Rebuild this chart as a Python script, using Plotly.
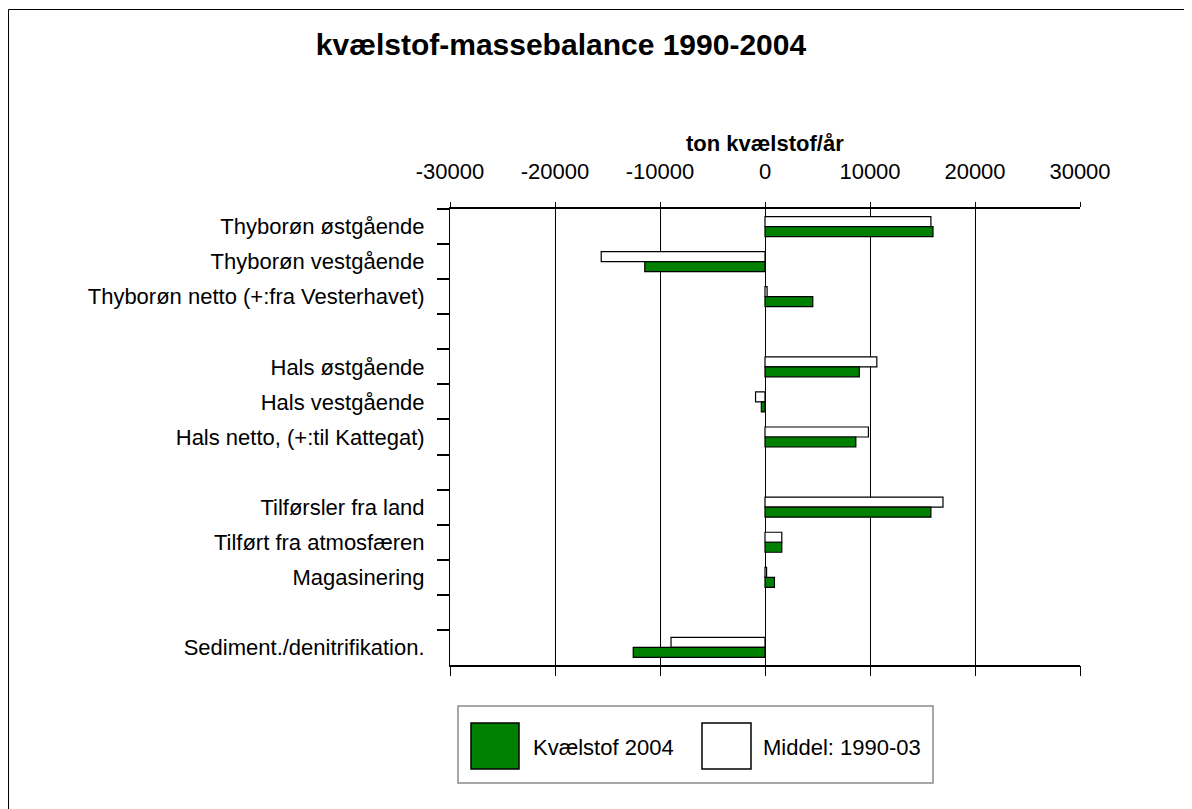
import plotly.graph_objects as go

# ---- data ----
categories = [
    "Thyborøn østgående",
    "Thyborøn vestgående",
    "Thyborøn netto (+:fra Vesterhavet)",
    " ",
    "Hals østgående",
    "Hals vestgående",
    "Hals netto, (+:til Kattegat)",
    "  ",
    "Tilførsler fra land",
    "Tilført fra atmosfæren",
    "Magasinering",
    "   ",
    "Sediment./denitrifikation.",
]
kvaelstof_2004 = [16000, -11450, 4550, None, 8980, -350, 8650, None, 15800, 1600, 900, None, -12550]
middel_1990_03 = [15800, -15600, 200, None, 10650, -900, 9850, None, 16950, 1600, 150, None, -8950]
x_tickvals = [-30000, -20000, -10000, 0, 10000, 20000, 30000]
x_ticktext = ["-30000", "-20000", "-10000", "0", "10000", "20000", "30000"]

title_text = "kvælstof-massebalance 1990-2004"
axis_title = "ton kvælstof/år"
series_names = ["Kvælstof 2004", "Middel: 1990-03"]

# ---- layout geometry (screen pixels) ----
W, H = 1192, 809
OX, OY = 8, 8          # page body margin offset
FW, FH = W - OX, H - OY
L, R, T, B = 450, 1080, 209, 665
FONT = "Liberation Sans, Arial, sans-serif"
GREEN = "#008000"


def px_x(x):
    return (x - L) / (R - L)


def px_y(y):
    return (B - y) / (B - T)


fig = go.Figure()
# Middel first -> drawn on top within each group (reversed category axis)
fig.add_trace(go.Bar(
    y=categories, x=middel_1990_03, orientation="h", name=series_names[1],
    marker=dict(color="white", line=dict(color="black", width=1.2)),
    showlegend=False,
))
fig.add_trace(go.Bar(
    y=categories, x=kvaelstof_2004, orientation="h", name=series_names[0],
    marker=dict(color=GREEN, line=dict(color="black", width=1.2)),
    showlegend=False,
))
# empty helper trace so the bottom tick axis is drawn
fig.add_trace(go.Scatter(x=[], y=[], xaxis="x2", yaxis="y", showlegend=False,
                         hoverinfo="skip"))

shapes = []
# outer frame (left and top edges visible)
shapes.append(dict(type="line", xref="paper", yref="paper",
                   x0=px_x(8.5), x1=px_x(8.5), y0=px_y(9.5), y1=px_y(H + 5),
                   line=dict(color="black", width=1)))
shapes.append(dict(type="line", xref="paper", yref="paper",
                   x0=px_x(8.5), x1=px_x(W + 5), y0=px_y(9.5), y1=px_y(9.5),
                   line=dict(color="black", width=1)))
# legend box
shapes.append(dict(type="rect", xref="paper", yref="paper",
                   x0=px_x(458), x1=px_x(933), y0=px_y(783), y1=px_y(706),
                   line=dict(color="#8a8a8a", width=1.5), fillcolor="white"))
shapes.append(dict(type="rect", xref="paper", yref="paper",
                   x0=px_x(471), x1=px_x(519), y0=px_y(769), y1=px_y(723),
                   line=dict(color="black", width=1.5), fillcolor=GREEN))
shapes.append(dict(type="rect", xref="paper", yref="paper",
                   x0=px_x(702), x1=px_x(751), y0=px_y(769), y1=px_y(723),
                   line=dict(color="black", width=1.5), fillcolor="white"))

annotations = [
    dict(text=axis_title, xref="paper", yref="paper", x=0.5, y=px_y(143),
         xanchor="center", yanchor="middle", showarrow=False,
         font=dict(family=FONT, size=22, color="black", weight="bold")),
    dict(text=series_names[0], xref="paper", yref="paper", x=px_x(531), y=px_y(747),
         xanchor="left", yanchor="middle", showarrow=False,
         font=dict(family=FONT, size=22, color="black")),
    dict(text=series_names[1], xref="paper", yref="paper", x=px_x(761), y=px_y(747),
         xanchor="left", yanchor="middle", showarrow=False,
         font=dict(family=FONT, size=22, color="black")),
]

fig.update_layout(
    width=FW, height=FH,
    margin=dict(l=L - OX, r=W - R, t=T - OY, b=H - B, pad=0),
    paper_bgcolor="white", plot_bgcolor="white",
    barmode="group", bargap=0.43, bargroupgap=0,
    font=dict(family=FONT, size=22, color="black"),
    title=dict(text=title_text, x=(561 - OX) / FW, y=1 - (44 - OY) / FH,
               xref="container", yref="container",
               xanchor="center", yanchor="middle",
               font=dict(family=FONT, size=30, color="black", weight="bold")),
    xaxis=dict(
        range=[-30000, 30000], side="top", tickvals=x_tickvals, ticktext=x_ticktext,
        ticks="outside", ticklen=5, tickcolor="black", tickwidth=1,
        showgrid=True, gridcolor="black", gridwidth=1, zeroline=False,
        showline=True, linecolor="black", linewidth=1.5, mirror=True,
        ticklabelstandoff=14, tickfont=dict(family=FONT, size=22, color="black"),
        fixedrange=True,
    ),
    xaxis2=dict(
        range=[-30000, 30000], overlaying="x", anchor="y", side="bottom",
        tickvals=x_tickvals, showticklabels=False, ticks="outside", ticklen=10,
        tickcolor="black", showgrid=False, zeroline=False, showline=False,
    ),
    yaxis=dict(
        type="category", categoryorder="array", categoryarray=categories,
        autorange="reversed", tickson="boundaries", ticks="outside", ticklen=12,
        tickcolor="black", tickwidth=1.5, showgrid=False, zeroline=False,
        showline=True, linecolor="black", linewidth=1,
        ticklabelstandoff=20, tickfont=dict(family=FONT, size=22, color="black"),
    ),
    shapes=shapes, annotations=annotations, showlegend=False,
)

fig.write_html("out.html")
